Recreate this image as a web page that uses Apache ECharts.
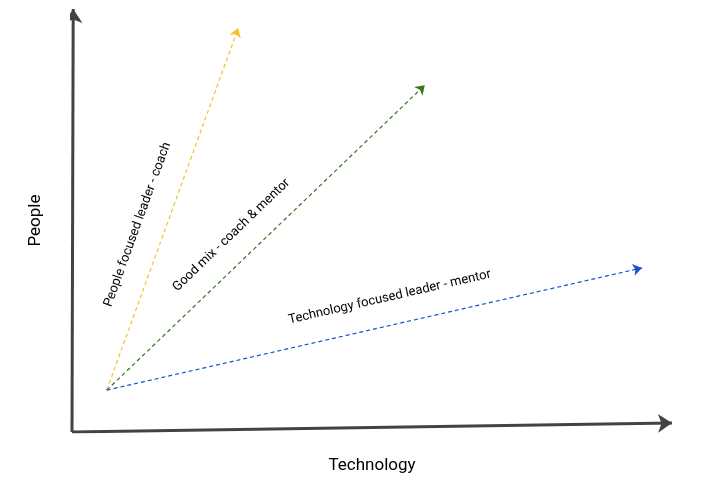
<!DOCTYPE html>
<html>
<head>
<meta charset="utf-8">
<script src="https://cdn.jsdelivr.net/npm/echarts@6/dist/echarts.min.js"></script>
<style>
  html, body { margin: 0; padding: 0; background: #fff; }
  #chart { width: 705px; height: 495px; }
</style>
</head>
<body>
<div id="chart"></div>
<script>
// axis arrows (Technology x, People y)
var axisStart = [0, 0];
var xAxisEnd = [100, 2.1];
var yAxisEnd = [0.2, 100];

// leadership styles: all start at the same point
var origin = [5.8, 9.9];
var styleNames = ['People focused leader - coach', 'Good mix - coach & mentor', 'Technology focused leader - mentor'];
var styleEnds = [[27.7, 95.5], [58.8, 82.0], [95, 38.8]];
var styleColors = ['#f1c232', '#38761d', '#1155cc'];
// label offset along the line from its start, and away from the line
var labelShift = [[79, 21], [119, 19], [193, 21]];

var chart = echarts.init(document.getElementById('chart'));

var styleData = styleNames.map(function (name, i) {
    return {
        name: name,
        coords: [origin, styleEnds[i]],
        lineStyle: { color: styleColors[i] },
        label: { distance: labelShift[i] }
    };
});

var option = {
    animation: false,
    grid: { left: 72, right: 33, top: 9, bottom: 63 },
    xAxis: {
        type: 'value', min: 0, max: 100,
        name: 'Technology', nameLocation: 'middle', nameGap: 25,
        nameTextStyle: { fontFamily: 'Roboto', fontSize: 17, color: '#000' },
        axisLine: { show: false }, axisTick: { show: false },
        axisLabel: { show: false }, splitLine: { show: false }
    },
    yAxis: {
        type: 'value', min: 0, max: 100,
        name: 'People', nameLocation: 'middle', nameGap: 28,
        nameTextStyle: { fontFamily: 'Roboto', fontSize: 17, color: '#000' },
        axisLine: { show: false }, axisTick: { show: false },
        axisLabel: { show: false }, splitLine: { show: false }
    },
    series: [
        {
            type: 'lines',
            coordinateSystem: 'cartesian2d',
            symbol: ['none', 'arrow'],
            symbolSize: [12, 14],
            lineStyle: { color: '#434343', width: 3, opacity: 1, curveness: 0 },
            data: [
                { coords: [axisStart, xAxisEnd] },
                { coords: [axisStart, yAxisEnd] }
            ],
            silent: true,
            z: 3
        },
        {
            type: 'lines',
            coordinateSystem: 'cartesian2d',
            symbol: ['none', 'arrow'],
            symbolSize: [7, 9],
            lineStyle: { width: 1.2, type: [4, 3], opacity: 1, curveness: 0 },
            label: {
                show: true,
                position: 'insideStartTop',
                formatter: '{b}',
                fontFamily: 'Roboto',
                fontSize: 13,
                color: '#000'
            },
            data: styleData,
            silent: true,
            z: 2
        }
    ]
};

chart.setOption(option);
</script>
</body>
</html>
